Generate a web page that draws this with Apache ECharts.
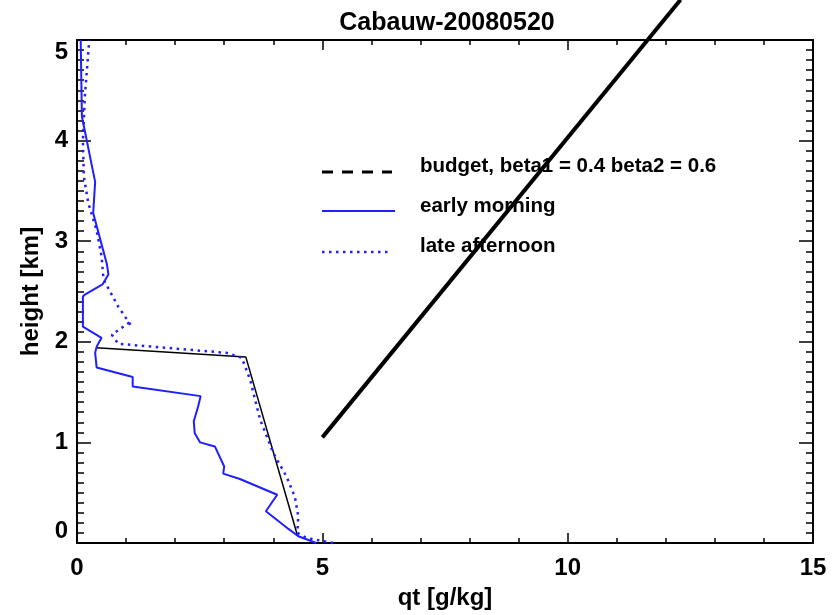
<!DOCTYPE html>
<html>
<head>
<meta charset="utf-8">
<script src="https://cdn.jsdelivr.net/npm/echarts@6/dist/echarts.min.js"></script>
<style>
html,body{margin:0;padding:0;background:#fff;}
#chart{width:832px;height:615px;}
</style>
</head>
<body>
<div id="chart"></div>
<script>
// ---- data ----
var titleText = 'Cabauw-20080520';
var xName = 'qt [g/kg]';
var yName = 'height [km]';
var legendNames = ['budget, beta1 = 0.4 beta2 = 0.6', 'early morning', 'late afternoon'];

var budgetQt = [0.39, 3.44, 4.49];
var budgetH  = [1.94, 1.85, 0.08];

var morningQt = [4.88, 4.51, 4.31, 3.85, 4.08, 3.32, 2.98, 3.00, 2.81, 2.51, 2.40, 2.38, 2.47, 2.52, 1.135, 1.135, 0.40, 0.37, 0.40, 0.50, 0.12, 0.12, 0.16, 0.52, 0.64, 0.61, 0.33, 0.37, 0.10, 0.075];
var morningH  = [0.00, 0.067, 0.14, 0.315, 0.48, 0.636, 0.69, 0.76, 0.96, 1.00, 1.09, 1.21, 1.36, 1.46, 1.556, 1.65, 1.745, 1.89, 1.95, 2.04, 2.15, 2.45, 2.47, 2.57, 2.67, 2.77, 3.28, 3.59, 4.24, 5.00];

var afternoonQt = [5.22, 4.68, 4.49, 4.51, 4.44, 4.27, 4.00, 3.73, 3.53, 3.36, 3.05, 0.84, 0.71, 1.09, 1.09, 0.84, 0.54, 0.50, 0.40, 0.23, 0.14, 0.12, 0.16, 0.25];
var afternoonH  = [0.00, 0.05, 0.10, 0.265, 0.46, 0.66, 0.895, 1.23, 1.62, 1.84, 1.89, 1.98, 2.07, 2.20, 2.17, 2.35, 2.62, 2.85, 3.11, 3.38, 3.64, 4.00, 4.44, 5.00];

var thickQt = [5.0, 12.3];
var thickH  = [1.05, 5.4];

var xMin = 0, xMax = 15, xStep = 5;
var yMin = 0, yMax = 5, yStep = 1;

function pairs(a, b) { var r = []; for (var i = 0; i < a.length; i++) r.push([a[i], b[i]]); return r; }

var FONT = '"Liberation Sans", Arial, Helvetica, sans-serif';
var BLUE = '#1f1fff';

var chart = echarts.init(document.getElementById('chart'), null, {renderer: 'canvas'});

function xAxisCfg(pos, labels) {
  return {
    type: 'value', position: pos, min: xMin, max: xMax, interval: xStep,
    name: labels ? xName : '', nameLocation: 'middle', nameGap: 43,
    nameTextStyle: {fontFamily: FONT, fontSize: 24, fontWeight: 'bold', color: '#000'},
    axisLine: {show: true, onZero: false, lineStyle: {color: '#000', width: 2}},
    axisTick: {show: true, inside: true, length: 10, lineStyle: {color: '#000', width: 1.5}},
    minorTick: {show: true, splitNumber: 5, length: 5, lineStyle: {color: '#000', width: 1.5}},
    axisLabel: {show: labels, margin: 13, fontFamily: FONT, fontSize: 24, fontWeight: 'bold', color: '#000'},
    splitLine: {show: false}
  };
}
function yAxisCfg(pos, labels) {
  return {
    type: 'value', position: pos, min: yMin, max: yMax, interval: yStep,
    name: labels ? yName : '', nameLocation: 'middle', nameGap: 33, nameRotate: 90,
    nameTextStyle: {fontFamily: FONT, fontSize: 24, fontWeight: 'bold', color: '#000'},
    axisLine: {show: true, onZero: false, lineStyle: {color: '#000', width: 2}},
    axisTick: {show: true, inside: true, length: 14, lineStyle: {color: '#000', width: 1.5}},
    minorTick: {show: true, splitNumber: 10, length: 7, lineStyle: {color: '#000', width: 1.5}},
    axisLabel: {show: labels, margin: 9, fontFamily: FONT, fontSize: 24, fontWeight: 'bold', color: '#000',
      verticalAlignMinLabel: 'bottom', verticalAlignMaxLabel: 'top'},
    splitLine: {show: false}
  };
}

// legend drawn as graphic elements (icon sits slightly below the text, as in the reference)
var legendIconX = 322, legendTextX = 420;
var legendTextY = [166, 206, 246];
var legendIconY = [172, 211, 252];
var legendIconLen = [70, 73, 70];
var legendDash = [[11, 9], null, [2.5, 4.5]];
var legendColor = ['#000', BLUE, BLUE];
var legendWidth = [3, 2, 2.5];
var graphics = [];
for (var i = 0; i < legendNames.length; i++) {
  graphics.push({
    type: 'line', silent: true,
    shape: {x1: legendIconX, y1: legendIconY[i], x2: legendIconX + legendIconLen[i], y2: legendIconY[i]},
    style: {stroke: legendColor[i], lineWidth: legendWidth[i], lineDash: legendDash[i]}
  });
  graphics.push({
    type: 'text', silent: true, x: legendTextX, y: legendTextY[i],
    style: {text: legendNames[i], fill: '#000', font: 'bold 20.5px ' + FONT, textVerticalAlign: 'middle', verticalAlign: 'middle'}
  });
}

var option = {
  animation: false,
  backgroundColor: '#fff',
  title: {
    text: titleText, left: 442, top: 6, textAlign: 'center',
    textStyle: {fontFamily: FONT, fontSize: 25, fontWeight: 'bold', color: '#000'}
  },
  grid: {left: 77, top: 40, right: 19, bottom: 72, containLabel: false},
  graphic: graphics,
  xAxis: [xAxisCfg('bottom', true), xAxisCfg('top', false)],
  yAxis: [yAxisCfg('left', true), yAxisCfg('right', false)],
  series: [
    {
      name: legendNames[0], type: 'line', xAxisIndex: 0, yAxisIndex: 0,
      data: pairs(budgetQt, budgetH), symbol: 'none', clip: false,
      lineStyle: {color: '#000', width: 1.5}, itemStyle: {color: '#000'}
    },
    {
      name: legendNames[1], type: 'line', xAxisIndex: 0, yAxisIndex: 0,
      data: pairs(morningQt, morningH), symbol: 'none', clip: false,
      lineStyle: {color: BLUE, width: 2}, itemStyle: {color: BLUE}
    },
    {
      name: legendNames[2], type: 'line', xAxisIndex: 0, yAxisIndex: 0,
      data: pairs(afternoonQt, afternoonH), symbol: 'none', clip: false,
      lineStyle: {color: BLUE, width: 2.5, type: [2.5, 4.5]}, itemStyle: {color: BLUE}
    },
    {
      name: 'thick', type: 'line', xAxisIndex: 0, yAxisIndex: 0,
      data: pairs(thickQt, thickH), symbol: 'none', clip: false, z: 5,
      lineStyle: {color: '#000', width: 4}, itemStyle: {color: '#000'}
    }
  ]
};
chart.setOption(option);
</script>
</body>
</html>
